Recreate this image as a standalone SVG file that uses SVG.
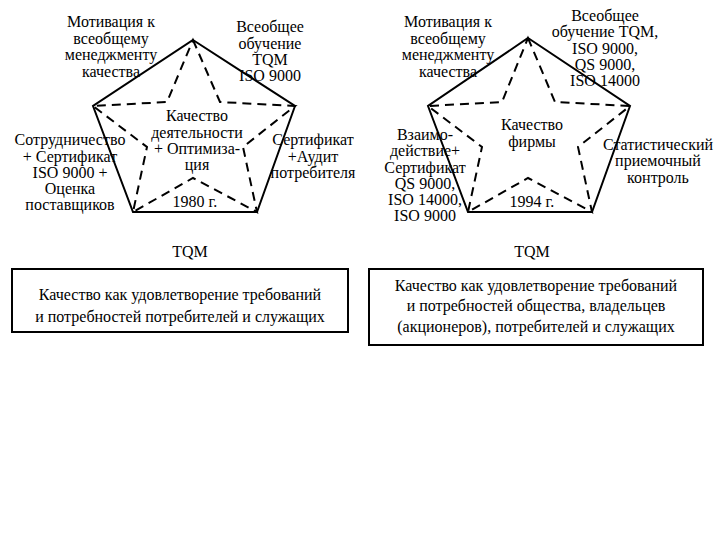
<svg xmlns="http://www.w3.org/2000/svg" width="720" height="540" viewBox="0 0 720 540">
<defs>
<style>
.solid{fill:none;stroke:#000;stroke-width:2;stroke-linejoin:miter}
.dash{fill:none;stroke:#000;stroke-width:2;stroke-dasharray:9 6}
.box{fill:#fff;stroke:#000;stroke-width:2}
</style>
</defs>
<rect width="720" height="540" fill="#fff"/>
<g id="connectors">
<polygon class="solid" points="193,40 295,106 257,212 133,212 93,106"/>
<polygon class="dash" points="193,40 220,102 295,106 243,147 257,212 193,178 133,212 147,147 93,106 167,102"/>
<polygon class="solid" points="528,38 630,106 592,212 468,212 428,106"/>
<polygon class="dash" points="528,38 555,102 630,106 578,147 592,212 528,178 468,212 482,147 428,106 502,102"/>
</g>
<g id="left-top">
<text x="111" y="27" font-family="Liberation Serif" font-size="16" text-anchor="middle">Мотивация к</text>
<text x="111" y="44" font-family="Liberation Serif" font-size="16" text-anchor="middle">всеобщему</text>
<text x="111" y="60" font-family="Liberation Serif" font-size="16" text-anchor="middle">менеджменту</text>
<text x="111" y="77" font-family="Liberation Serif" font-size="16" text-anchor="middle">качества</text>
</g>
<g id="left-topright">
<text x="270" y="32" font-family="Liberation Serif" font-size="16" text-anchor="middle">Всеобщее</text>
<text x="270" y="49" font-family="Liberation Serif" font-size="16" text-anchor="middle">обучение</text>
<text x="270" y="65" font-family="Liberation Serif" font-size="16" text-anchor="middle">TQM</text>
<text x="270" y="81" font-family="Liberation Serif" font-size="16" text-anchor="middle">ISO 9000</text>
</g>
<g id="left-center">
<text x="197" y="121" font-family="Liberation Serif" font-size="16" text-anchor="middle">Качество</text>
<text x="197" y="138" font-family="Liberation Serif" font-size="16" text-anchor="middle">деятельности</text>
<text x="197" y="154" font-family="Liberation Serif" font-size="16" text-anchor="middle">+ Оптимиза-</text>
<text x="197" y="170" font-family="Liberation Serif" font-size="16" text-anchor="middle">ция</text>
</g>
<g id="left-left">
<text x="70" y="145" font-family="Liberation Serif" font-size="16" text-anchor="middle">Сотрудничество</text>
<text x="70" y="162" font-family="Liberation Serif" font-size="16" text-anchor="middle">+ Сертификат</text>
<text x="70" y="178" font-family="Liberation Serif" font-size="16" text-anchor="middle">ISO 9000 +</text>
<text x="70" y="194" font-family="Liberation Serif" font-size="16" text-anchor="middle">Оценка</text>
<text x="70" y="210" font-family="Liberation Serif" font-size="16" text-anchor="middle">поставщиков</text>
</g>
<g id="left-right">
<text x="313" y="145" font-family="Liberation Serif" font-size="16" text-anchor="middle">Сертификат</text>
<text x="313" y="162" font-family="Liberation Serif" font-size="16" text-anchor="middle">+Аудит</text>
<text x="313" y="178" font-family="Liberation Serif" font-size="16" text-anchor="middle">потребителя</text>
</g>
<g id="left-year"><text x="195" y="207" font-family="Liberation Serif" font-size="16" text-anchor="middle">1980 г.</text></g>
<g id="left-tqm"><text x="190" y="257" font-family="Liberation Serif" font-size="16" text-anchor="middle">TQM</text></g>
<g id="left-box">
<rect class="box" x="12" y="269" width="336" height="63"/>
<text x="180" y="300" font-family="Liberation Serif" font-size="16" text-anchor="middle">Качество как удовлетворение требований</text>
<text x="180" y="322" font-family="Liberation Serif" font-size="16" text-anchor="middle">и потребностей потребителей и служащих</text>
</g>
<g id="right-top">
<text x="448" y="27" font-family="Liberation Serif" font-size="16" text-anchor="middle">Мотивация к</text>
<text x="448" y="44" font-family="Liberation Serif" font-size="16" text-anchor="middle">всеобщему</text>
<text x="448" y="60" font-family="Liberation Serif" font-size="16" text-anchor="middle">менеджменту</text>
<text x="448" y="77" font-family="Liberation Serif" font-size="16" text-anchor="middle">качества</text>
</g>
<g id="right-topright">
<text x="605" y="21" font-family="Liberation Serif" font-size="16" text-anchor="middle">Всеобщее</text>
<text x="605" y="37" font-family="Liberation Serif" font-size="16" text-anchor="middle">обучение TQM,</text>
<text x="605" y="54" font-family="Liberation Serif" font-size="16" text-anchor="middle">ISO 9000,</text>
<text x="605" y="70" font-family="Liberation Serif" font-size="16" text-anchor="middle">QS 9000,</text>
<text x="605" y="86" font-family="Liberation Serif" font-size="16" text-anchor="middle">ISO 14000</text>
</g>
<g id="right-center">
<text x="532" y="130" font-family="Liberation Serif" font-size="16" text-anchor="middle">Качество</text>
<text x="532" y="147" font-family="Liberation Serif" font-size="16" text-anchor="middle">фирмы</text>
</g>
<g id="right-left">
<text x="425" y="140" font-family="Liberation Serif" font-size="16" text-anchor="middle">Взаимо-</text>
<text x="425" y="156" font-family="Liberation Serif" font-size="16" text-anchor="middle">действие+</text>
<text x="425" y="173" font-family="Liberation Serif" font-size="16" text-anchor="middle">Сертификат</text>
<text x="425" y="189" font-family="Liberation Serif" font-size="16" text-anchor="middle">QS 9000,</text>
<text x="425" y="205" font-family="Liberation Serif" font-size="16" text-anchor="middle">ISO 14000,</text>
<text x="425" y="221" font-family="Liberation Serif" font-size="16" text-anchor="middle">ISO 9000</text>
</g>
<g id="right-right">
<text x="658" y="150" font-family="Liberation Serif" font-size="16" text-anchor="middle">Статистический</text>
<text x="658" y="166" font-family="Liberation Serif" font-size="16" text-anchor="middle">приемочный</text>
<text x="658" y="183" font-family="Liberation Serif" font-size="16" text-anchor="middle">контроль</text>
</g>
<g id="right-year"><text x="532" y="207" font-family="Liberation Serif" font-size="16" text-anchor="middle">1994 г.</text></g>
<g id="right-tqm"><text x="532" y="257" font-family="Liberation Serif" font-size="16" text-anchor="middle">TQM</text></g>
<g id="right-box">
<rect class="box" x="369" y="269" width="334" height="76"/>
<text x="536" y="291" font-family="Liberation Serif" font-size="16" text-anchor="middle">Качество как удовлетворение требований</text>
<text x="536" y="311" font-family="Liberation Serif" font-size="16" text-anchor="middle">и потребностей общества, владельцев</text>
<text x="536" y="332" font-family="Liberation Serif" font-size="16" text-anchor="middle">(акционеров), потребителей и служащих</text>
</g>
</svg>
